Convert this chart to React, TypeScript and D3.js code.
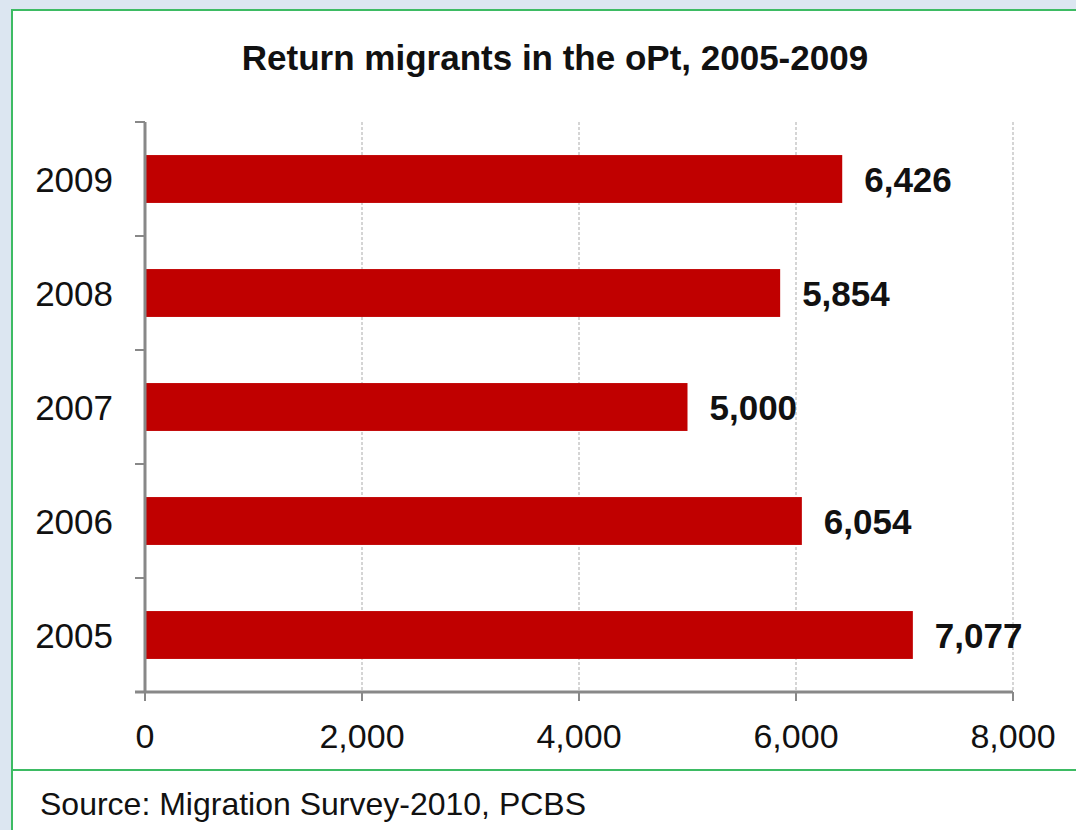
import * as d3 from "d3";

const years = ["2009", "2008", "2007", "2006", "2005"];
const migrants = [6426, 5854, 5000, 6054, 7077];
const xTicks = [0, 2000, 4000, 6000, 8000];
const title = "Return migrants in the oPt, 2005-2009";
const source = "Source: Migration Survey-2010, PCBS";

export default function App() {
  const width = 1076;
  const height = 830;
  const plot = { left: 145, right: 1013, top: 122, bottom: 692 };

  const x = d3.scaleLinear().domain([0, 8000]).range([plot.left, plot.right]);
  const y = d3
    .scaleBand()
    .domain(years)
    .range([plot.top, plot.bottom])
    .paddingInner(0.58)
    .paddingOuter(0.29);
  const band = d3.scaleBand().domain(years).range([plot.top, plot.bottom]);
  const fmt = d3.format(",");
  const font = "'Liberation Sans', Arial, sans-serif";

  return (
    <div style={{ position: "absolute", left: 0, top: 0 }}>
      <svg width={width} height={height} fontFamily={font}>
        <rect width={width} height={height} fill="#dce6f1" />
        <rect x={12} y={10} width={width} height={height} fill="#fff" stroke="#3dbb63" strokeWidth={2} />
        <line x1={12} x2={width} y1={770} y2={770} stroke="#3dbb63" strokeWidth={2} />

        <text x={555} y={70} textAnchor="middle" fontSize={35} fontWeight="bold" fill="#111">
          {title}
        </text>

        {/* gridlines */}
        {xTicks.slice(1).map((t) => (
          <line key={t} x1={x(t)} x2={x(t)} y1={plot.top} y2={plot.bottom} stroke="#c8c8c8" strokeWidth={1.5} strokeDasharray="3,2" />
        ))}

        {/* bars */}
        {years.map((yr, i) => (
          <rect key={yr} x={x(0)} y={y(yr)!} width={x(migrants[i]) - x(0)} height={y.bandwidth()} fill="#c00000" />
        ))}

        {/* value labels */}
        {years.map((yr, i) => (
          <text key={yr} x={x(migrants[i]) + 22} y={y(yr)! + y.bandwidth() / 2} dy="0.36em" fontSize={35} fontWeight="bold" fill="#111">
            {fmt(migrants[i])}
          </text>
        ))}

        {/* y axis */}
        <line x1={plot.left} x2={plot.left} y1={plot.top} y2={plot.bottom} stroke="#888" strokeWidth={3} />
        {years.map((yr) => (
          <line key={yr} x1={plot.left - 10} x2={plot.left} y1={band(yr)!} y2={band(yr)!} stroke="#888" strokeWidth={2} />
        ))}
        {years.map((yr) => (
          <text key={yr} x={113} y={band(yr)! + band.bandwidth() / 2} dy="0.36em" textAnchor="end" fontSize={35} fill="#111">
            {yr}
          </text>
        ))}

        {/* x axis */}
        <line x1={plot.left - 10} x2={plot.right} y1={plot.bottom} y2={plot.bottom} stroke="#888" strokeWidth={3} />
        {xTicks.map((t) => (
          <line key={t} x1={x(t)} x2={x(t)} y1={plot.bottom} y2={plot.bottom + 9} stroke="#888" strokeWidth={2} />
        ))}
        {xTicks.map((t) => (
          <text key={t} x={x(t)} y={748} textAnchor="middle" fontSize={34} fill="#111">
            {fmt(t)}
          </text>
        ))}

        <text x={40} y={815} fontSize={32} fill="#111">
          {source}
        </text>
      </svg>
    </div>
  );
}
